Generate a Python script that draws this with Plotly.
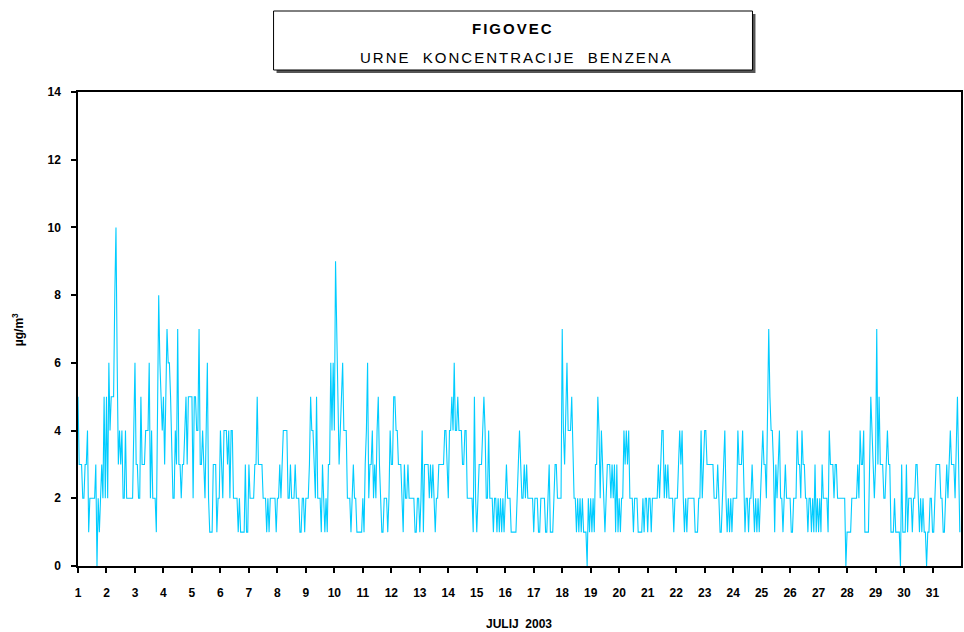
import plotly.graph_objects as go

# Hourly benzene concentrations (µg/m3), FIGOVEC, July 2003 — 24 values per day
days_01_07 = [
    5,3,3,3,2,2,3,3,4,1,2,2,2,2,2,3,0,2,1,2,3,2,5,2,
    5,2,6,4,5,5,5,8,10,6,3,4,3,4,2,2,4,2,2,2,2,2,2,4,
    6,3,3,2,2,5,3,3,3,4,4,4,6,2,4,2,2,2,1,4,8,6,5,4,
    5,3,5,7,6,6,5,3,2,2,4,3,7,3,3,2,3,3,4,5,3,5,5,5,
    5,2,5,5,4,4,7,3,3,4,3,2,4,6,2,1,1,1,3,3,3,1,2,2,
    4,3,2,4,4,4,3,4,2,4,4,2,2,2,2,1,2,1,1,1,1,3,1,1,
    3,2,2,2,2,3,3,5,3,3,3,3,2,2,2,1,2,1,2,2,2,2,2,1,
]
days_08_14 = [
    2,2,3,2,3,4,4,4,4,2,2,3,2,2,2,3,2,2,2,1,1,2,2,1,
    2,2,2,3,5,4,4,3,2,5,2,2,2,1,3,2,1,2,1,3,3,6,4,6,
    4,9,7,5,3,4,5,6,4,4,4,2,2,2,1,2,3,2,2,1,1,1,1,1,
    2,1,3,4,6,2,3,3,4,2,3,2,4,5,3,2,1,1,2,2,2,1,2,4,
    3,3,5,5,4,4,3,3,3,2,1,3,2,2,3,2,2,2,2,2,1,1,2,2,
    1,2,4,1,3,3,3,3,2,3,2,3,2,1,2,2,3,3,3,3,3,4,4,3,
    2,4,4,5,4,6,4,4,5,4,4,4,3,3,4,4,2,2,2,2,2,1,5,2,
]
days_15_21 = [
    1,2,3,3,3,4,5,4,2,2,4,2,2,2,1,2,2,1,2,1,2,1,2,1,
    2,3,2,2,2,1,1,1,1,1,2,3,4,3,2,2,3,2,3,2,2,2,2,2,
    1,2,2,2,1,1,2,2,2,2,1,1,2,3,1,1,1,2,3,3,2,2,2,2,
    7,4,3,5,6,4,4,4,5,3,2,2,1,2,1,2,1,2,1,1,1,0,2,1,
    2,1,2,1,3,3,5,4,2,4,3,2,1,2,3,3,3,2,3,2,3,1,3,1,
    2,1,2,2,4,3,4,3,4,2,2,2,1,2,2,2,1,1,1,1,2,1,2,2,
    1,2,2,1,2,2,2,2,2,3,2,3,4,4,2,3,2,3,2,2,2,2,1,2,
]
days_22_28 = [
    2,2,3,4,3,4,2,1,2,1,2,2,2,2,2,2,1,1,1,2,2,4,2,3,
    4,4,3,3,3,3,3,3,2,2,2,3,2,1,1,2,3,4,2,1,2,1,2,1,
    2,2,2,2,4,3,3,3,4,2,1,2,2,1,2,2,3,2,1,2,1,2,1,2,
    3,4,3,3,2,5,7,5,4,4,3,1,3,2,3,4,2,2,1,2,3,2,2,2,
    2,1,1,2,2,2,4,3,3,2,4,3,3,2,2,1,2,2,1,2,1,3,1,2,
    1,2,1,3,2,2,2,2,1,4,3,3,3,2,3,3,2,2,2,2,2,2,2,0,
    1,1,1,1,2,2,2,2,2,3,2,4,3,3,4,1,1,1,1,3,5,4,3,2,
]
days_29_31 = [
    3,7,3,5,3,3,3,2,2,3,4,3,3,1,1,1,2,1,1,1,1,0,3,1,
    1,1,3,1,2,2,2,1,2,2,3,3,2,1,2,1,2,1,1,0,1,1,2,2,
    1,1,2,3,3,3,3,2,2,1,1,2,3,2,3,4,3,3,3,2,4,5,3,1,
]

day_ticks = list(range(1, 32))
y_ticks = [0, 2, 4, 6, 8, 10, 12, 14]
title_main = "FIGOVEC"
title_sub = "URNE  KONCENTRACIJE  BENZENA"
x_title = "JULIJ  2003"
y_title = "µg/m<sup>3</sup>"

values = days_01_07 + days_08_14 + days_15_21 + days_22_28 + days_29_31
x = [1 + i / 24 for i in range(len(values))]

W, H = 964, 632
ML, MR, MT, MB = 78, 1, 92, 66
PW = W - ML - MR
PH = H - MT - MB


def px(xp):
    return (xp - ML) / PW


def py(yp):
    return (H - MB - yp) / PH


fig = go.Figure()
fig.add_trace(go.Scatter(
    x=x, y=values, mode="lines",
    line=dict(color="#00CCFF", width=1.1),
    hoverinfo="skip", showlegend=False,
))

font_family = "Liberation Sans, Arial, sans-serif"

fig.update_layout(
    width=W, height=H,
    margin=dict(l=ML, r=MR, t=MT, b=MB),
    paper_bgcolor="white", plot_bgcolor="white",
    xaxis=dict(
        range=[1, 32], tickmode="array", tickvals=day_ticks,
        ticktext=[str(d) for d in day_ticks],
        ticks="outside", ticklen=5, tickcolor="black", tickwidth=1.5,
        showgrid=False, zeroline=False,
        showline=True, linecolor="black", linewidth=1.5, mirror=True,
        tickfont=dict(family=font_family, size=12, color="black", weight="bold"),
        ticklabelstandoff=10,
    ),
    yaxis=dict(
        range=[0, 14], tickmode="array", tickvals=y_ticks,
        ticks="outside", ticklen=5, tickcolor="black", tickwidth=1.5,
        showgrid=False, zeroline=False,
        showline=True, linecolor="black", linewidth=1.5, mirror=True,
        tickfont=dict(family=font_family, size=12, color="black", weight="bold"),
        ticklabelstandoff=8,
    ),
    shapes=[
        dict(type="rect", xref="paper", yref="paper",
             x0=px(277), x1=px(757), y0=py(73), y1=py(14),
             fillcolor="#555555", line=dict(width=0)),
        dict(type="rect", xref="paper", yref="paper",
             x0=px(274), x1=px(754), y0=py(70), y1=py(11),
             fillcolor="white", line=dict(color="black", width=1)),
    ],
    annotations=[
        dict(text=f"<span style='letter-spacing:2px'><b>{title_main}</b></span>",
             xref="paper", yref="paper", x=px(514), y=py(29),
             showarrow=False, xanchor="center", yanchor="middle",
             font=dict(family=font_family, size=15, color="black")),
        dict(text=f"<span style='letter-spacing:2px'>{title_sub}</span>",
             xref="paper", yref="paper", x=px(517), y=py(58),
             showarrow=False, xanchor="center", yanchor="middle",
             font=dict(family=font_family, size=15, color="black")),
        dict(text=f"<b>{x_title}</b>", xref="paper", yref="paper",
             x=px(520), y=py(624), showarrow=False,
             xanchor="center", yanchor="middle",
             font=dict(family=font_family, size=12, color="black")),
        dict(text=f"<b>{y_title}</b>", xref="paper", yref="paper",
             x=px(18), y=py(330), showarrow=False, textangle=-90,
             xanchor="center", yanchor="middle",
             font=dict(family=font_family, size=12, color="black")),
    ],
)

fig.write_html("out.html", config={"displayModeBar": False},
               post_script="document.body.style.margin='0';")
